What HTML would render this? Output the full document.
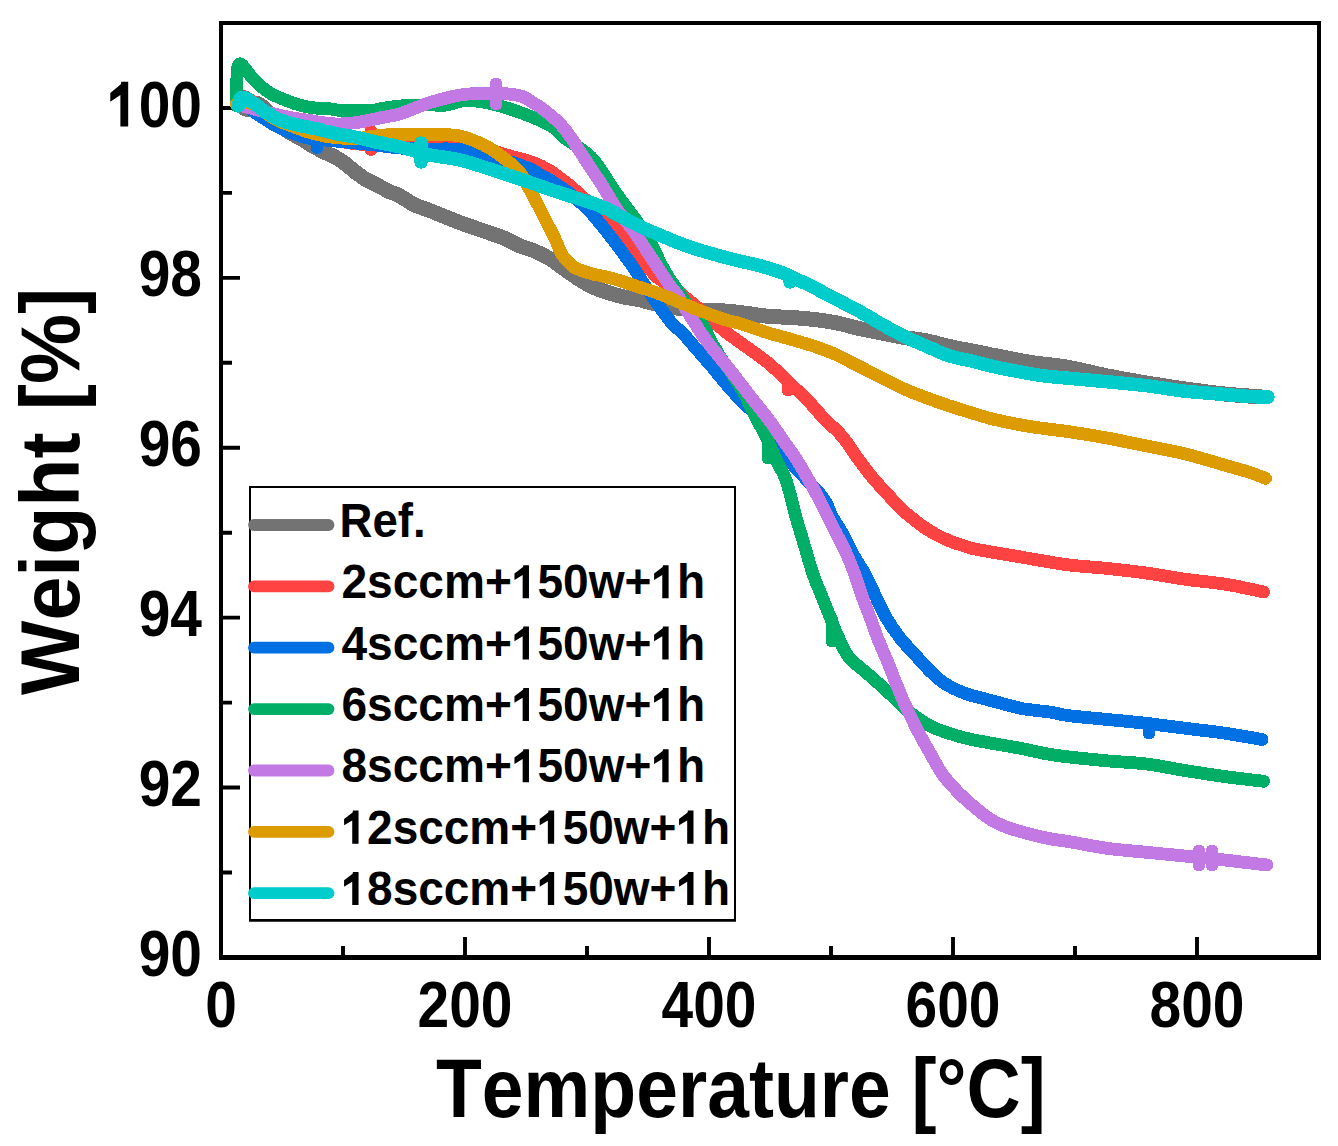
<!DOCTYPE html>
<html><head><meta charset="utf-8"><style>
html,body{margin:0;padding:0;background:#fff;width:1338px;height:1146px;overflow:hidden}
svg{display:block}
text{font-family:"Liberation Sans",sans-serif;font-weight:bold;fill:#000;font-kerning:none}
</style></head><body>
<svg width="1338" height="1146" viewBox="0 0 1338 1146">
<rect x="0" y="0" width="1338" height="1146" fill="#fff"/>
<!-- axes frame -->
<path d="M221 957.5V23H1319V957.5" fill="none" stroke="#000" stroke-width="4"/>
<path d="M219 957.5H1321" stroke="#000" stroke-width="5"/>
<!-- ticks -->
<g stroke="#000" stroke-width="3.9">
<path d="M343 957V946M465 957V937M587 957V946M709 957V937M831 957V946M953 957V937M1075 957V946M1197 957V937"/>
<path d="M221 872.5H232M221 787.5H240M221 702.6H232M221 617.6H240M221 532.7H232M221 447.8H240M221 362.8H232M221 277.9H240M221 192.9H232M221 108.0H240"/>
</g>
<!-- curves -->
<g fill="none" stroke-linecap="round" stroke-linejoin="round" shape-rendering="crispEdges">
<path d="M238.0 104.0C239.8 105.0 245.8 110.1 249.0 110.0C252.2 109.9 254.2 103.5 257.0 103.5C259.8 103.5 262.5 106.8 266.0 110.0C269.5 113.2 274.3 119.4 278.0 123.0C281.7 126.6 284.3 129.0 288.0 131.5C291.7 134.0 296.0 135.7 300.0 138.0C304.0 140.3 308.0 143.2 312.0 145.5C316.0 147.8 320.2 150.1 324.0 152.0C327.8 153.9 331.5 155.1 335.0 157.0C338.5 158.9 341.5 160.9 345.0 163.5C348.5 166.1 352.5 169.8 356.0 172.5C359.5 175.2 362.5 177.4 366.0 179.5C369.5 181.6 373.2 183.0 377.0 185.0C380.8 187.0 385.5 189.8 389.0 191.5C392.5 193.2 394.8 193.4 398.0 195.0C401.2 196.6 405.2 199.3 408.0 201.0C410.8 202.7 411.4 203.4 415.0 205.0C418.6 206.6 424.9 208.7 429.9 210.6C434.9 212.5 439.8 214.6 444.8 216.6C449.8 218.6 454.8 220.7 459.8 222.6C464.8 224.5 469.7 226.1 474.7 227.8C479.7 229.5 484.7 231.2 489.7 233.0C494.7 234.8 499.6 236.2 504.6 238.3C509.6 240.4 514.6 243.7 519.6 245.8C524.6 247.9 529.5 248.9 534.5 251.0C539.5 253.1 544.5 255.5 549.5 258.5C554.5 261.5 559.4 265.5 564.4 269.0C569.4 272.5 574.4 276.3 579.4 279.4C584.4 282.5 587.5 284.8 594.3 287.6C601.0 290.4 612.5 294.0 619.9 296.0C627.2 298.0 631.7 298.0 638.4 299.5C645.1 301.0 653.1 303.5 660.0 305.0C666.9 306.5 673.3 307.7 680.0 308.5C686.7 309.3 692.6 309.6 700.0 310.0C707.4 310.4 717.8 310.6 724.5 311.0C731.2 311.4 735.0 311.9 740.0 312.5C745.0 313.1 749.4 313.8 754.4 314.5C759.4 315.2 763.7 316.0 770.0 316.5C776.3 317.0 784.5 317.0 792.0 317.5C799.5 318.0 807.3 318.7 814.8 319.6C822.3 320.5 829.5 321.5 837.0 323.0C844.5 324.5 852.2 326.9 859.7 328.6C867.2 330.3 874.5 331.5 882.0 333.0C889.5 334.5 897.0 336.2 904.5 337.5C912.0 338.8 919.5 339.5 927.0 341.0C934.5 342.5 941.9 344.8 949.4 346.5C956.9 348.2 964.5 349.5 972.0 351.0C979.5 352.5 984.5 353.6 994.2 355.5C1003.9 357.4 1017.5 360.3 1030.0 362.3C1042.5 364.3 1056.0 365.2 1068.9 367.5C1081.9 369.8 1094.8 373.4 1107.7 376.0C1120.7 378.6 1133.6 380.8 1146.6 383.0C1159.6 385.2 1172.5 387.2 1185.5 389.0C1198.5 390.8 1211.5 392.7 1224.3 394.0C1237.0 395.3 1255.7 396.5 1262.0 397.0" stroke="#737373" stroke-width="15"/>
<path d="M237.0 101.0C237.8 100.2 239.5 96.0 242.0 96.0C244.5 96.0 248.7 98.7 252.0 101.0C255.3 103.3 255.7 105.7 262.0 110.0C268.3 114.3 280.3 122.5 290.0 127.0C299.7 131.5 310.0 134.3 320.0 137.0C330.0 139.7 341.5 141.7 350.0 143.0C358.5 144.3 362.7 144.5 371.0 145.0C379.3 145.5 390.2 145.8 400.0 146.0C409.8 146.2 420.0 146.2 430.0 146.5C440.0 146.8 450.1 147.4 460.0 148.0C469.9 148.6 482.3 148.9 489.7 150.0C497.1 151.1 499.6 153.1 504.6 154.5C509.6 155.9 514.6 157.1 519.6 158.5C524.6 159.9 529.5 161.0 534.5 163.0C539.5 165.0 544.9 167.8 549.5 170.5C554.1 173.2 558.5 177.0 561.9 179.5C565.3 182.0 566.9 182.9 570.0 185.5C573.1 188.1 576.8 191.7 580.5 195.0C584.2 198.3 588.8 202.2 592.5 205.5C596.2 208.8 599.4 211.7 603.0 215.0C606.6 218.3 610.1 221.3 614.4 225.5C618.7 229.7 624.0 234.6 628.8 240.3C633.6 246.0 638.7 253.6 643.2 259.5C647.7 265.4 650.2 270.9 655.7 276.0C661.2 281.1 669.8 285.4 676.0 290.0C682.2 294.6 687.3 299.0 693.0 303.7C698.7 308.4 704.8 313.4 710.0 318.0C715.2 322.6 718.4 326.1 724.5 331.0C730.6 335.9 739.4 341.8 746.9 347.3C754.4 352.8 761.8 357.6 769.4 364.0C777.0 370.4 786.1 379.7 792.4 385.7C798.7 391.7 802.0 394.4 807.4 400.0C812.8 405.6 819.7 414.0 824.9 419.4C830.1 424.8 834.5 428.0 838.4 432.2C842.3 436.4 845.4 440.4 848.3 444.4C851.2 448.4 853.3 452.3 855.9 456.0C858.5 459.7 861.3 462.9 864.0 466.5C866.7 470.1 869.1 473.6 872.3 477.4C875.5 481.2 879.4 485.5 883.0 489.5C886.6 493.5 890.7 497.7 894.0 501.2C897.3 504.7 899.9 507.6 903.0 510.5C906.1 513.4 909.5 515.9 912.8 518.6C916.1 521.3 919.4 524.0 923.0 526.5C926.6 529.0 930.0 531.3 934.5 533.7C939.0 536.1 945.5 539.3 949.8 541.1C954.0 542.9 956.2 543.3 960.0 544.5C963.8 545.7 965.9 547.0 972.6 548.5C979.3 550.0 990.4 551.8 1000.0 553.5C1009.6 555.2 1018.5 556.7 1030.0 558.6C1041.5 560.5 1056.0 563.4 1068.9 565.0C1081.9 566.6 1094.8 567.1 1107.7 568.5C1120.7 569.9 1133.6 571.3 1146.6 573.1C1159.6 574.9 1172.5 577.5 1185.5 579.3C1198.5 581.1 1213.5 582.4 1224.3 584.0C1235.0 585.6 1243.5 587.7 1250.0 589.0C1256.5 590.3 1261.2 591.5 1263.5 592.0" stroke="#FF4242" stroke-width="12.8"/>
<path d="M371.0 131.5L371.0 149.5" stroke="#FF4242" stroke-width="12.8"/>
<path d="M788.0 383.0L788.0 390.0" stroke="#FF4242" stroke-width="12.8"/>
<path d="M237.0 105.0C238.7 105.3 244.5 106.1 247.0 107.0C249.5 107.9 250.0 108.8 252.0 110.2C254.0 111.6 256.7 113.8 259.0 115.4C261.3 117.0 263.7 118.1 266.0 119.6C268.3 121.1 270.7 122.8 273.0 124.2C275.3 125.6 276.7 126.5 280.0 128.0C283.3 129.6 289.3 132.1 293.0 133.5C296.7 134.9 299.2 135.7 302.0 136.5C304.8 137.3 303.7 137.5 310.0 138.3C316.3 139.1 330.0 140.5 340.0 141.5C350.0 142.5 360.0 143.4 370.0 144.5C380.0 145.6 390.0 147.2 400.0 148.0C410.0 148.8 420.0 148.8 430.0 149.0C440.0 149.2 450.0 148.3 460.0 149.5C470.0 150.7 481.7 154.0 490.0 156.0C498.3 158.0 505.0 160.0 510.0 161.5C515.0 163.0 516.6 163.8 520.0 165.0C523.4 166.2 527.0 167.3 530.5 169.0C534.0 170.7 537.4 173.0 540.9 175.0C544.4 177.0 547.9 178.8 551.4 181.0C554.9 183.2 558.8 185.9 561.9 188.0C565.0 190.1 567.1 191.2 570.0 193.5C572.9 195.8 576.1 198.5 579.4 201.5C582.7 204.5 586.6 207.8 590.0 211.5C593.4 215.2 597.3 220.2 600.0 223.5C602.7 226.8 603.0 226.9 606.2 231.0C609.4 235.1 614.7 242.0 619.2 248.0C623.7 254.0 628.3 260.2 633.1 267.2C637.9 274.2 643.2 282.9 648.0 290.0C652.8 297.1 657.6 304.2 661.7 309.9C665.8 315.6 669.0 320.1 672.5 324.0C676.0 327.9 679.2 329.6 683.0 333.5C686.8 337.4 691.3 343.1 695.0 347.3C698.7 351.5 701.7 355.1 705.0 358.8C708.3 362.6 712.3 367.1 714.6 369.8C716.9 372.5 716.8 372.8 718.6 375.0C720.4 377.2 722.6 379.8 725.6 383.3C728.6 386.8 733.2 392.1 736.7 395.8C740.2 399.5 743.6 402.7 746.5 405.6C749.4 408.5 751.1 409.6 754.2 413.3C757.3 417.0 758.6 419.5 765.0 428.0C771.4 436.5 782.8 452.7 792.4 464.2C802.0 475.7 816.0 488.5 822.6 497.2C829.2 505.9 828.7 510.1 832.3 516.6C835.9 523.1 840.4 529.5 844.0 536.0C847.6 542.5 850.1 549.0 853.7 555.5C857.3 562.0 861.5 567.5 865.4 574.9C869.3 582.3 873.8 592.6 877.4 600.0C881.0 607.4 883.3 612.9 887.2 619.4C891.1 625.9 895.6 632.4 900.8 638.9C906.0 645.4 913.3 652.8 918.3 658.3C923.3 663.8 926.5 667.7 931.0 672.0C935.5 676.3 939.9 680.5 945.5 684.0C951.1 687.5 958.4 690.8 964.9 693.3C971.4 695.8 977.8 697.0 984.3 698.8C990.8 700.6 997.3 702.3 1003.8 704.0C1010.3 705.7 1015.5 707.4 1023.2 708.8C1030.9 710.1 1042.4 711.0 1050.0 712.1C1057.6 713.2 1059.3 714.5 1068.9 715.7C1078.5 716.9 1094.8 718.2 1107.7 719.5C1120.7 720.8 1133.6 721.9 1146.6 723.4C1159.6 724.9 1172.5 726.7 1185.5 728.3C1198.5 729.9 1211.5 731.2 1224.3 733.1C1237.0 735.0 1255.7 738.4 1262.0 739.5" stroke="#0070E2" stroke-width="12.8"/>
<path d="M317.0 141.0L317.0 147.5" stroke="#0070E2" stroke-width="12.8"/>
<path d="M1149.0 723.0L1149.0 733.0" stroke="#0070E2" stroke-width="12.8"/>
<path d="M236.8 106.0C236.8 102.5 236.7 91.2 236.8 85.0C236.9 78.8 236.9 72.5 237.3 69.0C237.8 65.5 238.5 64.4 239.5 64.0C240.5 63.6 241.0 63.8 243.5 66.5C246.0 69.2 250.2 76.1 254.6 80.5C259.0 84.9 264.3 89.6 269.8 93.0C275.3 96.4 282.6 98.9 287.8 101.0C293.0 103.1 296.7 104.3 301.2 105.5C305.7 106.7 310.2 107.5 314.7 108.0C319.2 108.5 323.9 108.1 328.1 108.5C332.3 108.9 335.4 110.1 340.0 110.5C344.6 110.9 350.7 110.8 356.0 110.8C361.3 110.8 367.6 111.0 372.0 110.6C376.4 110.2 377.6 109.2 382.3 108.4C387.0 107.6 394.6 106.5 400.0 106.0C405.4 105.5 410.0 105.7 415.0 105.5C420.0 105.3 425.0 104.8 429.9 104.8C434.8 104.8 439.5 105.8 444.5 105.3C449.5 104.8 455.6 102.3 459.8 101.5C464.1 100.7 465.0 100.2 470.0 100.5C475.0 100.8 481.4 101.2 489.7 103.2C498.0 105.2 509.6 108.7 519.6 112.3C529.6 115.9 542.0 120.8 549.5 125.0C557.0 129.2 559.6 134.0 564.4 137.7C569.1 141.4 573.6 143.8 578.0 147.0C582.4 150.2 587.2 153.2 591.0 157.0C594.8 160.8 597.5 165.0 601.0 170.0C604.5 175.0 608.2 181.3 612.0 187.0C615.8 192.7 620.0 198.5 624.0 204.0C628.0 209.5 631.3 213.2 636.0 220.0C640.7 226.8 648.2 238.3 652.0 245.0C655.8 251.7 656.7 255.3 659.0 260.0C661.3 264.7 663.4 268.7 666.0 273.0C668.6 277.3 672.3 282.8 674.5 286.0C676.7 289.2 677.5 289.8 679.0 292.0C680.5 294.2 681.3 296.0 683.3 299.0C685.3 302.0 688.2 306.3 691.0 310.0C693.8 313.7 697.6 318.2 700.0 321.4C702.4 324.6 703.6 325.9 705.3 329.0C707.0 332.1 708.6 336.8 710.2 340.0C711.8 343.2 713.3 345.1 715.0 348.0C716.7 350.9 718.4 354.0 720.6 357.4C722.8 360.8 725.8 364.9 728.3 368.6C730.8 372.3 732.8 375.3 735.6 379.8C738.5 384.3 743.0 391.4 745.4 395.8C747.8 400.2 748.4 402.3 750.3 406.3C752.2 410.3 754.3 414.9 757.0 420.0C759.7 425.1 763.3 430.6 766.4 437.0C769.5 443.4 772.3 451.5 775.4 458.3C778.5 465.1 782.5 471.2 785.1 477.7C787.7 484.2 789.1 490.7 790.9 497.2C792.7 503.7 794.0 510.1 795.8 516.6C797.6 523.1 799.7 529.5 801.6 536.0C803.5 542.5 805.5 549.0 807.4 555.5C809.3 562.0 811.0 568.4 813.3 574.9C815.6 581.4 818.4 587.8 821.0 594.3C823.6 600.8 826.3 607.5 828.8 613.8C831.3 620.1 832.8 624.9 836.0 632.0C839.2 639.1 843.0 649.4 848.3 656.4C853.6 663.4 861.2 668.0 867.7 673.8C874.2 679.6 880.7 685.3 887.2 691.3C893.7 697.3 900.8 704.8 906.6 709.8C912.4 714.8 917.0 717.9 921.9 721.0C926.8 724.1 928.9 725.8 935.9 728.6C942.9 731.4 954.5 735.2 963.8 737.7C973.1 740.2 982.4 741.5 991.7 743.3C1001.0 745.0 1010.4 746.4 1019.7 748.2C1029.0 750.0 1039.4 752.5 1047.6 754.0C1055.8 755.5 1058.9 755.9 1068.9 757.0C1078.9 758.1 1094.8 759.7 1107.7 760.9C1120.7 762.1 1133.6 762.4 1146.6 764.0C1159.6 765.6 1172.5 768.5 1185.5 770.6C1198.5 772.7 1211.3 774.7 1224.3 776.5C1237.3 778.3 1257.0 780.5 1263.5 781.3" stroke="#00AE66" stroke-width="12.8"/>
<path d="M768.0 445.0L768.0 458.0" stroke="#00AE66" stroke-width="12.8"/>
<path d="M832.0 620.0L832.0 641.0" stroke="#00AE66" stroke-width="12.8"/>
<path d="M236.0 104.0C238.3 104.7 244.3 106.5 250.0 108.0C255.7 109.5 263.3 111.4 270.0 113.0C276.7 114.6 283.4 116.2 290.0 117.5C296.6 118.8 303.9 119.6 309.7 120.5C315.5 121.4 319.9 122.4 325.0 123.0C330.1 123.6 334.2 124.2 340.0 124.0C345.8 123.8 353.0 123.1 360.0 122.0C367.0 120.9 375.2 118.9 381.9 117.5C388.6 116.1 392.0 116.3 400.0 113.8C408.0 111.3 419.9 105.7 429.9 102.6C439.9 99.5 449.8 96.7 459.8 95.1C469.8 93.5 479.7 93.1 489.7 93.2C499.7 93.3 512.1 93.8 519.6 95.6C527.1 97.4 531.3 101.9 535.0 104.0C538.7 106.1 538.4 105.8 541.9 108.4C545.4 111.0 551.9 116.1 555.8 119.6C559.6 123.1 562.2 126.1 565.0 129.5C567.8 132.9 570.3 136.6 572.6 140.0C574.9 143.4 576.8 146.5 579.0 150.0C581.2 153.5 583.8 157.3 586.1 160.9C588.4 164.5 590.7 168.0 593.0 171.5C595.3 175.0 597.6 178.0 600.1 181.9C602.6 185.8 605.4 190.7 608.0 195.0C610.6 199.3 613.2 203.8 616.0 208.0C618.8 212.2 621.8 215.7 625.0 220.0C628.2 224.3 632.0 228.6 635.5 233.6C639.0 238.6 642.4 244.3 646.1 249.9C649.8 255.5 653.8 261.4 657.6 267.2C661.4 273.0 665.7 279.7 669.1 284.5C672.5 289.3 675.1 291.8 678.0 296.0C680.9 300.2 681.8 302.6 686.4 309.9C691.0 317.2 698.6 329.8 705.8 339.8C713.0 349.8 721.9 359.7 729.8 369.7C737.6 379.7 746.4 391.3 752.9 399.6C759.4 407.9 763.7 412.8 768.6 419.4C773.5 425.9 777.7 432.4 782.2 438.9C786.7 445.4 791.6 451.8 795.8 458.3C800.0 464.8 803.7 471.2 807.4 477.7C811.1 484.2 814.7 490.7 818.1 497.2C821.5 503.7 824.5 510.1 827.8 516.6C831.0 523.1 834.4 529.5 837.6 536.0C840.9 542.5 844.4 549.0 847.3 555.5C850.2 562.0 852.5 568.2 855.0 575.0C857.5 581.8 859.5 589.0 862.0 596.0C864.5 603.0 867.3 609.8 870.0 617.0C872.7 624.2 875.3 632.2 878.0 639.0C880.7 645.8 883.3 651.5 886.0 658.0C888.7 664.5 891.2 671.0 894.0 678.0C896.8 685.0 900.2 693.5 903.0 700.0C905.8 706.5 908.2 711.2 911.0 717.0C913.8 722.8 916.5 728.5 920.0 735.0C923.5 741.5 928.2 749.7 931.7 755.9C935.2 762.1 937.9 767.3 941.0 772.0C944.1 776.7 946.7 779.7 950.5 784.0C954.3 788.3 959.2 793.5 963.8 797.8C968.4 802.1 973.4 806.3 978.0 810.0C982.6 813.7 987.2 817.4 991.7 820.1C996.2 822.9 1000.3 824.6 1005.0 826.5C1009.7 828.4 1012.6 829.3 1019.7 831.3C1026.8 833.3 1039.4 836.6 1047.6 838.3C1055.8 840.0 1058.9 839.9 1068.9 841.6C1078.9 843.3 1094.8 846.6 1107.7 848.4C1120.7 850.2 1133.6 851.0 1146.6 852.3C1159.6 853.6 1172.5 854.8 1185.5 856.1C1198.5 857.4 1210.7 858.5 1224.3 860.0C1237.9 861.5 1259.9 864.2 1267.0 865.0" stroke="#C379E3" stroke-width="12.8"/>
<path d="M496.0 84.0L496.0 104.0" stroke="#C379E3" stroke-width="12.8"/>
<path d="M1199.0 851.0L1199.0 865.0" stroke="#C379E3" stroke-width="12.8"/>
<path d="M1212.0 851.0L1212.0 865.0" stroke="#C379E3" stroke-width="12.8"/>
<path d="M236.0 104.0C237.5 103.8 242.2 103.0 245.0 103.0C247.8 103.0 250.2 102.8 253.0 104.0C255.8 105.2 259.2 108.0 262.0 110.0C264.8 112.0 267.0 114.1 270.0 116.0C273.0 117.9 276.7 120.0 280.0 121.5C283.3 123.0 285.8 123.7 290.0 125.3C294.2 126.9 299.4 129.2 305.0 131.0C310.6 132.8 317.9 134.7 323.7 135.9C329.5 137.1 334.3 137.6 340.0 138.0C345.7 138.4 352.8 138.8 358.0 138.5C363.2 138.2 366.5 137.1 371.5 136.5C376.5 135.9 383.1 135.1 387.8 134.8C392.6 134.5 394.6 134.8 400.0 134.8C405.4 134.8 413.3 134.7 420.0 134.6C426.7 134.5 433.4 134.1 440.0 134.3C446.6 134.5 454.0 134.9 459.8 136.0C465.6 137.1 470.0 139.0 475.0 141.0C480.0 143.0 484.8 145.2 489.7 148.2C494.6 151.1 499.6 154.7 504.6 158.7C509.6 162.7 515.1 166.3 519.6 172.0C524.1 177.7 528.0 186.7 531.5 193.0C535.0 199.3 537.8 204.7 540.5 210.0C543.2 215.3 545.5 219.8 548.0 224.8C550.5 229.8 553.1 234.8 555.5 239.8C557.9 244.8 559.5 250.4 562.2 254.7C564.9 259.0 569.0 263.2 571.9 265.7C574.8 268.2 575.7 268.2 579.4 269.7C583.1 271.2 590.9 273.5 594.3 274.5C597.7 275.5 595.8 274.5 600.0 275.5C604.2 276.5 613.1 278.6 619.5 280.5C625.9 282.4 632.0 284.8 638.4 286.9C644.8 289.0 650.7 290.5 657.6 293.1C664.5 295.7 673.6 299.9 680.0 302.5C686.4 305.1 690.5 306.8 695.7 308.9C700.9 311.0 706.2 313.1 711.4 315.0C716.6 316.9 722.3 318.9 727.1 320.3C731.9 321.7 735.4 322.1 740.0 323.5C744.6 324.9 750.0 326.8 755.0 328.5C760.0 330.2 764.2 331.8 770.0 333.5C775.8 335.2 782.5 336.8 790.0 339.0C797.5 341.2 807.0 343.8 814.8 346.5C822.6 349.2 829.5 351.6 837.0 355.0C844.5 358.4 852.2 362.9 859.7 366.7C867.2 370.5 874.5 374.3 882.0 378.0C889.5 381.7 897.0 385.8 904.5 389.1C912.0 392.4 919.5 395.2 927.0 398.0C934.5 400.8 941.9 403.4 949.4 405.9C956.9 408.4 964.5 410.8 972.0 413.0C979.5 415.2 984.5 417.1 994.2 419.4C1003.9 421.6 1017.5 424.4 1030.0 426.5C1042.5 428.6 1056.0 429.8 1068.9 431.7C1081.9 433.6 1094.8 435.7 1107.7 438.1C1120.7 440.5 1133.6 443.4 1146.6 446.0C1159.6 448.6 1172.5 450.8 1185.5 454.0C1198.5 457.2 1213.5 461.9 1224.3 465.0C1235.0 468.1 1243.1 470.3 1250.0 472.5C1256.9 474.7 1262.9 477.4 1265.5 478.4" stroke="#DC9C00" stroke-width="12.8"/>
<path d="M238.5 106.0C238.8 104.8 239.2 100.4 240.0 99.0C240.8 97.6 241.2 96.8 243.5 97.5C245.8 98.2 250.4 101.0 253.5 103.0C256.6 105.0 257.6 106.7 262.0 109.5C266.4 112.3 273.7 117.3 280.0 120.0C286.3 122.7 294.2 124.1 300.0 125.5C305.8 126.9 310.6 127.6 314.7 128.5C318.8 129.4 320.4 130.0 324.6 131.0C328.8 132.0 334.6 133.4 340.0 134.5C345.4 135.6 351.0 136.2 357.0 137.5C363.0 138.8 368.8 140.4 375.9 142.0C383.0 143.6 393.3 145.3 399.8 146.8C406.3 148.3 410.0 149.6 415.0 151.0C420.0 152.4 422.4 153.5 429.9 155.0C437.4 156.5 449.8 157.7 459.8 160.0C469.8 162.3 479.7 165.9 489.7 169.0C499.7 172.1 509.6 175.4 519.6 178.8C529.6 182.2 539.5 185.9 549.5 189.3C559.5 192.7 571.0 196.2 579.4 199.0C587.8 201.8 593.3 203.2 600.0 206.0C606.7 208.8 613.1 212.3 619.5 215.6C625.9 218.9 632.0 222.8 638.4 225.9C644.8 229.0 651.2 231.4 657.6 234.1C664.0 236.8 670.4 239.7 676.8 242.2C683.2 244.7 688.8 246.7 696.0 249.0C703.2 251.3 712.8 254.0 720.0 256.0C727.2 258.0 733.7 259.6 739.5 261.0C745.3 262.4 750.0 263.2 755.0 264.5C760.0 265.8 764.5 267.0 769.4 268.5C774.3 270.0 780.0 271.8 784.3 273.5C788.6 275.2 789.9 276.1 795.0 278.5C800.1 280.9 807.8 284.4 814.8 288.0C821.8 291.6 829.8 295.9 837.3 299.8C844.8 303.7 852.2 307.4 859.7 311.5C867.2 315.6 874.6 320.3 882.1 324.5C889.6 328.7 897.0 332.8 904.5 336.5C912.0 340.2 919.5 343.3 927.0 346.5C934.5 349.7 941.9 353.5 949.4 355.9C956.9 358.3 964.3 359.3 971.8 361.1C979.3 362.9 986.7 365.0 994.2 366.7C1001.7 368.4 1009.1 369.8 1016.6 371.2C1024.1 372.6 1030.3 374.0 1039.0 375.2C1047.7 376.4 1057.5 377.2 1068.9 378.3C1080.4 379.4 1094.8 380.6 1107.7 381.8C1120.7 383.0 1133.6 384.1 1146.6 385.7C1159.6 387.3 1172.5 389.8 1185.5 391.2C1198.5 392.6 1213.5 393.5 1224.3 394.4C1235.0 395.3 1242.7 396.1 1250.0 396.5C1257.3 396.9 1265.0 396.9 1268.0 397.0" stroke="#00CCCC" stroke-width="13.5"/>
<path d="M421.0 143.0L421.0 162.0" stroke="#00CCCC" stroke-width="13.5"/>
<path d="M790.0 276.0L790.0 282.0" stroke="#00CCCC" stroke-width="13.5"/>
</g>
<!-- y tick labels -->
<g transform="translate(202.00,126.50) scale(0.8750,1)"><text x="-108.45" y="0" font-size="65"> 00</text><path transform="translate(-108.45,0) scale(0.03174,-0.03174)" d="M759 0L478 0L478 990L115 780L115 1055L495 1330L510 1409L759 1409Z"/></g>
<g transform="translate(202.00,296.40) scale(0.8750,1)"><text x="-72.30" y="0" font-size="65">98</text></g>
<g transform="translate(202.00,466.30) scale(0.8750,1)"><text x="-72.30" y="0" font-size="65">96</text></g>
<g transform="translate(202.00,636.10) scale(0.8750,1)"><text x="-72.30" y="0" font-size="65">94</text></g>
<g transform="translate(202.00,806.00) scale(0.8750,1)"><text x="-72.30" y="0" font-size="65">92</text></g>
<g transform="translate(202.00,975.90) scale(0.8750,1)"><text x="-72.30" y="0" font-size="65">90</text></g>
<!-- x tick labels -->
<g transform="translate(221.00,1026.50) scale(0.8750,1)"><text x="-18.07" y="0" font-size="65">0</text></g>
<g transform="translate(465.00,1026.50) scale(0.8750,1)"><text x="-54.22" y="0" font-size="65">200</text></g>
<g transform="translate(709.00,1026.50) scale(0.8750,1)"><text x="-54.22" y="0" font-size="65">400</text></g>
<g transform="translate(953.00,1026.50) scale(0.8750,1)"><text x="-54.22" y="0" font-size="65">600</text></g>
<g transform="translate(1197.00,1026.50) scale(0.8750,1)"><text x="-54.22" y="0" font-size="65">800</text></g>
<!-- axis titles -->
<text font-size="83" transform="translate(436,1117) scale(0.9045,1)">Temperature [°C]</text>
<text font-size="83" transform="translate(79,695) rotate(-90) scale(0.95,1)">Weight [%]</text>
<!-- legend -->
<rect x="250" y="487" width="485" height="433.4" fill="#fff"/>
<path d="M250 920.4V487H735V920.4" fill="none" stroke="#000" stroke-width="2"/>
<path d="M249 920.4H736" stroke="#000" stroke-width="2.9"/>
<g stroke-width="11.8" stroke-linecap="round">
<path d="M254 525.0H328.5" stroke="#737373"/>
<path d="M254 586.4H328.5" stroke="#FF4242"/>
<path d="M254 647.7H328.5" stroke="#0070E2"/>
<path d="M254 709.1H328.5" stroke="#00AE66"/>
<path d="M254 770.5H328.5" stroke="#C379E3"/>
<path d="M254 831.8H328.5" stroke="#DC9C00"/>
<path d="M254 893.2H328.5" stroke="#00CCCC"/>
</g>
<g transform="translate(339.50,536.80) scale(0.9500,1)"><text x="0.00" y="0" font-size="48">Ref.</text></g>
<g transform="translate(341.50,598.17) scale(0.9600,1)"><text x="0.00" y="0" font-size="48">2sccm+ 50w+ h</text><path transform="translate(177.49,0) scale(0.02344,-0.02344)" d="M759 0L478 0L478 990L115 780L115 1055L495 1330L510 1409L759 1409Z"/><path transform="translate(322.95,0) scale(0.02344,-0.02344)" d="M759 0L478 0L478 990L115 780L115 1055L495 1330L510 1409L759 1409Z"/></g>
<g transform="translate(341.50,659.54) scale(0.9600,1)"><text x="0.00" y="0" font-size="48">4sccm+ 50w+ h</text><path transform="translate(177.49,0) scale(0.02344,-0.02344)" d="M759 0L478 0L478 990L115 780L115 1055L495 1330L510 1409L759 1409Z"/><path transform="translate(322.95,0) scale(0.02344,-0.02344)" d="M759 0L478 0L478 990L115 780L115 1055L495 1330L510 1409L759 1409Z"/></g>
<g transform="translate(341.50,720.91) scale(0.9600,1)"><text x="0.00" y="0" font-size="48">6sccm+ 50w+ h</text><path transform="translate(177.49,0) scale(0.02344,-0.02344)" d="M759 0L478 0L478 990L115 780L115 1055L495 1330L510 1409L759 1409Z"/><path transform="translate(322.95,0) scale(0.02344,-0.02344)" d="M759 0L478 0L478 990L115 780L115 1055L495 1330L510 1409L759 1409Z"/></g>
<g transform="translate(341.50,782.28) scale(0.9600,1)"><text x="0.00" y="0" font-size="48">8sccm+ 50w+ h</text><path transform="translate(177.49,0) scale(0.02344,-0.02344)" d="M759 0L478 0L478 990L115 780L115 1055L495 1330L510 1409L759 1409Z"/><path transform="translate(322.95,0) scale(0.02344,-0.02344)" d="M759 0L478 0L478 990L115 780L115 1055L495 1330L510 1409L759 1409Z"/></g>
<g transform="translate(341.50,843.65) scale(0.9580,1)"><text x="0.00" y="0" font-size="48"> 2sccm+ 50w+ h</text><path transform="translate(0.00,0) scale(0.02344,-0.02344)" d="M759 0L478 0L478 990L115 780L115 1055L495 1330L510 1409L759 1409Z"/><path transform="translate(204.19,0) scale(0.02344,-0.02344)" d="M759 0L478 0L478 990L115 780L115 1055L495 1330L510 1409L759 1409Z"/><path transform="translate(349.64,0) scale(0.02344,-0.02344)" d="M759 0L478 0L478 990L115 780L115 1055L495 1330L510 1409L759 1409Z"/></g>
<g transform="translate(341.50,905.02) scale(0.9580,1)"><text x="0.00" y="0" font-size="48"> 8sccm+ 50w+ h</text><path transform="translate(0.00,0) scale(0.02344,-0.02344)" d="M759 0L478 0L478 990L115 780L115 1055L495 1330L510 1409L759 1409Z"/><path transform="translate(204.19,0) scale(0.02344,-0.02344)" d="M759 0L478 0L478 990L115 780L115 1055L495 1330L510 1409L759 1409Z"/><path transform="translate(349.64,0) scale(0.02344,-0.02344)" d="M759 0L478 0L478 990L115 780L115 1055L495 1330L510 1409L759 1409Z"/></g>
</svg>
</body></html>
